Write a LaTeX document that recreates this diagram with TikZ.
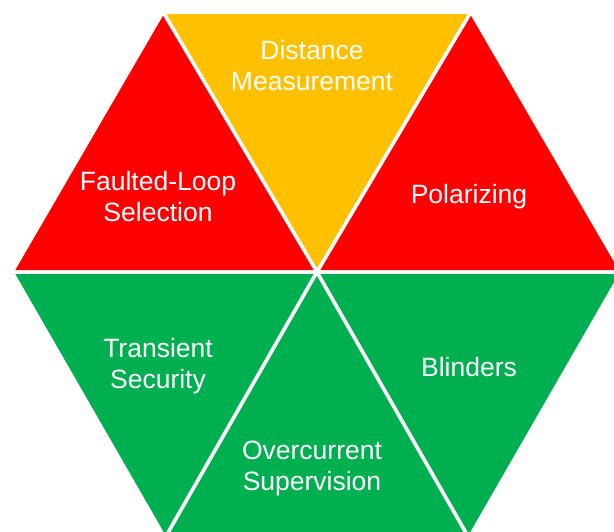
\documentclass[tikz,border=0pt]{standalone}
\usepackage{fontspec}
\setmainfont{Liberation Sans}
\definecolor{hexRed}{HTML}{FF0000}
\definecolor{hexAmber}{HTML}{FFC000}
\definecolor{hexGreen}{HTML}{00B050}
\begin{document}
\begin{tikzpicture}
        [x=1pt, y=-1pt,
        tri/.style={draw=white, line width=3.5pt, line join=miter},
        lbl/.style={text=white, align=center, font=\fontsize{26.5}{31}\selectfont}]
        \useasboundingbox (0,0) rectangle (614,531);
        \clip (0,0) rectangle (614,531);
        % corners of the hexagon (bottom row runs off the page)
        \coordinate (C) at (317,272);
        \coordinate (L) at (12,272);
        \coordinate (R) at (622,272);
        \coordinate (TL) at (163,12);
        \coordinate (TR) at (471,12);
        \coordinate (BL) at (165,538);
        \coordinate (BR) at (469,538);
        
        \filldraw[tri, fill=hexAmber] (TL) -- (TR) -- (C) -- cycle;
        \filldraw[tri, fill=hexRed] (TL) -- (C) -- (L) -- cycle;
        \filldraw[tri, fill=hexRed] (TR) -- (R) -- (C) -- cycle;
        \filldraw[tri, fill=hexGreen] (L) -- (C) -- (BL) -- cycle;
        \filldraw[tri, fill=hexGreen] (C) -- (BR) -- (BL) -- cycle;
        \filldraw[tri, fill=hexGreen] (C) -- (R) -- (BR) -- cycle;
        
        \node[lbl] (dist) at (312,66) {Distance\\Measurement};
        \node[lbl] (loop) at (158,197) {Faulted-Loop\\Selection};
        \node[lbl] (pol) at (469,197) {Polarizing};
        \node[lbl] (trans) at (158,366) {Transient\\Security};
        \node[lbl] (blind) at (469,367) {Blinders};
        \node[lbl] (over) at (312,468) {Overcurrent\\Supervision};
    \end{tikzpicture}
\end{document}
